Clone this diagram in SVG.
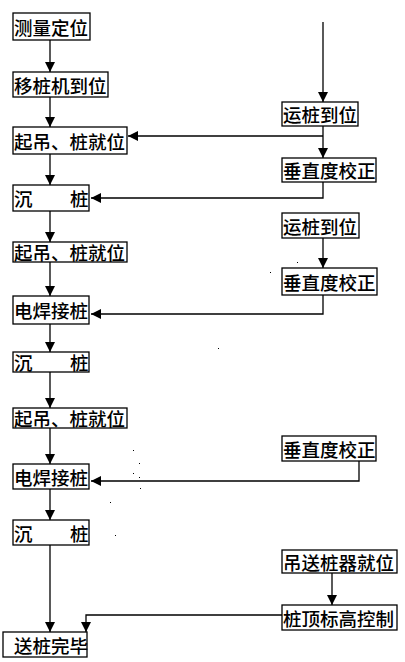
<svg xmlns="http://www.w3.org/2000/svg" width="405" height="662" viewBox="0 0 405 662">
<style>
.box{fill:#fff;stroke:#000;stroke-width:1.3}
.t{font-family:"Noto Sans CJK SC","Noto Sans CJK JP",sans-serif;font-size:18.5px;font-weight:500;fill:#000;dominant-baseline:central}
.c{fill:none;stroke:#000;stroke-width:1.3}
.a{marker-end:url(#ah)}
</style>
<defs>
<marker id="ah" viewBox="0 0 10 10" refX="10" refY="5" markerWidth="10" markerHeight="10" markerUnits="userSpaceOnUse" orient="auto">
<path d="M0,0 L10,5 L0,10 z" fill="#000"/>
</marker>
</defs>
<rect width="405" height="662" fill="#fff"/>
<g id="connectors">
<path class="c a" d="M50,40 V72"/>
<path class="c a" d="M50,97 V127"/>
<path class="c a" d="M50,154 V185"/>
<path class="c a" d="M50,211 V242"/>
<path class="c a" d="M50,262 V296"/>
<path class="c a" d="M50,324 V352"/>
<path class="c a" d="M50,372 V408"/>
<path class="c a" d="M50,428 V464"/>
<path class="c a" d="M50,489 V520"/>
<path class="c a" d="M50,545 V632"/>
<path class="c a" d="M323,22 V102"/>
<path class="c a" d="M323,126 V158"/>
<path class="c a" d="M323,136 H128"/>
<path class="c a" d="M323,182 V198 H91"/>
<path class="c a" d="M323,238 V268"/>
<path class="c a" d="M323,295 V314 H91"/>
<path class="c a" d="M359,461 V481 H91"/>
<path class="c a" d="M332,573 V605"/>
<path class="c a" d="M282,615 H86 V632"/>
</g>
<g id="n1"><rect class="box" x="13" y="13" width="77" height="27"/><text class="t" x="14" y="26.5">测量定位</text></g>
<g id="n2"><rect class="box" x="13" y="72" width="95" height="25"/><text class="t" x="14" y="84.5">移桩机到位</text></g>
<g id="n3"><rect class="box" x="13" y="127" width="114" height="27"/><text class="t" x="14" y="140.5">起吊、桩就位</text></g>
<g id="n4"><rect class="box" x="13" y="185" width="76" height="26"/><text class="t" x="14" y="198">沉<tspan x="70">桩</tspan></text></g>
<g id="n5"><rect class="box" x="13" y="242" width="114" height="20"/><text class="t" x="14" y="252">起吊、桩就位</text></g>
<g id="n6"><rect class="box" x="13" y="296" width="76" height="28"/><text class="t" x="14" y="310">电焊接桩</text></g>
<g id="n7"><rect class="box" x="13" y="352" width="76" height="20"/><text class="t" x="14" y="362">沉<tspan x="70">桩</tspan></text></g>
<g id="n8"><rect class="box" x="13" y="408" width="114" height="20"/><text class="t" x="14" y="418">起吊、桩就位</text></g>
<g id="n9"><rect class="box" x="13" y="464" width="76" height="25"/><text class="t" x="14" y="476.5">电焊接桩</text></g>
<g id="n10"><rect class="box" x="13" y="520" width="76" height="25"/><text class="t" x="14" y="532.5">沉<tspan x="70">桩</tspan></text></g>
<g id="n11"><rect class="box" x="3" y="632" width="84" height="25"/><text class="t" x="14" y="644.5">送桩完毕</text></g>
<g id="r1"><rect class="box" x="282" y="102" width="76" height="24"/><text class="t" x="283" y="114">运桩到位</text></g>
<g id="r2"><rect class="box" x="282" y="158" width="94" height="24"/><text class="t" x="283" y="170">垂直度校正</text></g>
<g id="r3"><rect class="box" x="282" y="213" width="77" height="25"/><text class="t" x="283" y="225.5">运桩到位</text></g>
<g id="r4"><rect class="box" x="282" y="268" width="95" height="27"/><text class="t" x="283" y="281.5">垂直度校正</text></g>
<g id="r5"><rect class="box" x="282" y="436" width="94" height="25"/><text class="t" x="283" y="448.5">垂直度校正</text></g>
<g id="r6"><rect class="box" x="282" y="550" width="115" height="23"/><text class="t" x="283" y="561.5">吊送桩器就位</text></g>
<g id="r7"><rect class="box" x="282" y="605" width="115" height="25"/><text class="t" x="283" y="617.5">桩顶标高控制</text></g>
<g id="specks" fill="#000">
<rect x="297" y="262" width="1" height="1"/><rect x="270" y="272" width="1" height="1"/><rect x="218" y="348" width="1" height="1"/>
<rect x="133" y="450" width="1" height="1"/><rect x="139" y="463" width="1" height="1"/><rect x="133" y="473" width="1" height="1"/>
<rect x="139" y="477" width="1" height="1"/><rect x="140" y="488" width="1" height="1"/><rect x="110" y="502" width="1" height="1"/>
<rect x="115" y="535" width="1" height="1"/>
</g>
</svg>
